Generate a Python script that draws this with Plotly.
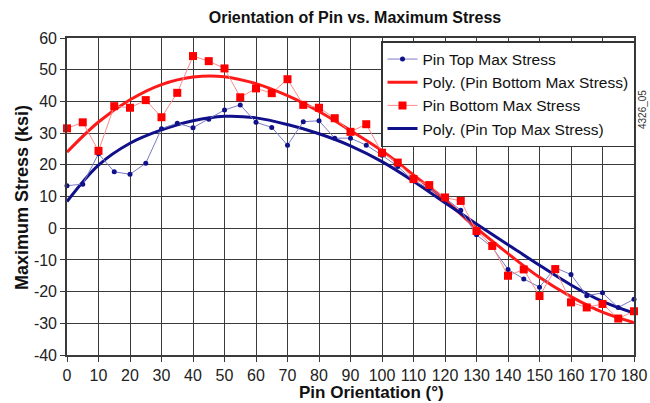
import plotly.graph_objects as go

# ---- data ----
angles = list(range(0, 181, 5))
pin_bottom = [31.5, 33.4, 24.4, 38.5, 38.0, 40.4, 35.0, 42.7, 54.3, 52.7, 50.4, 41.3, 44.1,
              42.6, 47.0, 38.9, 38.0, 34.7, 30.4, 32.8, 23.8, 20.7, 15.5, 13.6, 9.7, 8.6,
              -0.9, -5.6, -15.0, -13.0, -21.4, -12.9, -23.4, -25.0, -23.9, -28.5, -26.2]
pin_top = [13.4, 13.9, 23.5, 17.8, 17.0, 20.5, 31.4, 33.1, 31.7, 34.4, 37.3, 38.9, 33.4,
           31.8, 26.2, 33.6, 33.9, 28.4, 28.4, 26.2, 23.0, 19.5, 15.0, 12.5, 9.5, 5.7,
           -2.1, -6.0, -13.0, -16.0, -18.6, -12.5, -14.6, -21.3, -20.4, -25.0, -22.4]

trend_angles = list(range(0, 181, 10))
poly_bottom = [24.0, 33.5, 40.5, 45.3, 47.7, 47.8, 45.6, 41.8, 36.8, 30.8, 24.4, 16.8,
               8.9, 0.0, -8.0, -15.5, -21.6, -26.5, -29.8]
poly_top = [8.4, 19.9, 26.8, 31.0, 33.9, 35.3, 34.8, 32.7, 29.8, 26.0, 21.0, 14.8,
            8.0, 1.3, -5.2, -11.7, -17.9, -23.1, -26.8]

x_ticks = list(range(0, 181, 10))
y_ticks = list(range(-40, 61, 10))

FONT = "Liberation Sans, Arial, sans-serif"

fig = go.Figure()

fig.add_trace(go.Scatter(
    x=trend_angles, y=poly_bottom, mode="lines", name="Poly. (Pin Bottom Max Stress)",
    line=dict(color="#ff1a1a", width=3, shape="spline"), legendrank=2, cliponaxis=False))
fig.add_trace(go.Scatter(
    x=trend_angles, y=poly_top, mode="lines", name="Poly. (Pin Top Max Stress)",
    line=dict(color="#10108a", width=3, shape="spline"), legendrank=4, cliponaxis=False))
fig.add_trace(go.Scatter(
    x=angles, y=pin_top, mode="lines+markers", name="Pin Top Max Stress",
    line=dict(color="#7a7ac4", width=1),
    marker=dict(color="#10108a", size=5, symbol="circle"), legendrank=1, cliponaxis=False))
fig.add_trace(go.Scatter(
    x=angles, y=pin_bottom, mode="lines+markers", name="Pin Bottom Max Stress",
    line=dict(color="#ff8a8a", width=1),
    marker=dict(color="#ff0000", size=8, symbol="square"), legendrank=3, cliponaxis=False))

axis_common = dict(
    showgrid=True, gridcolor="#3a3a3a", gridwidth=1.4,
    showline=True, linecolor="#3a3a3a", linewidth=1.6, mirror=True,
    zeroline=False, ticks="outside", ticklen=5, tickcolor="#3a3a3a",
    tickfont=dict(family=FONT, size=16, color="#222222"),
    automargin=False, tickangle=0,
)

fig.update_layout(
    width=650, height=403,
    margin=dict(l=67, r=16, t=38, b=48),
    paper_bgcolor="white", plot_bgcolor="white",
    title=dict(text="<b>Orientation of Pin vs. Maximum Stress</b>", x=355 / 650, xanchor="center",
               y=1 - 17 / 403, yanchor="middle", font=dict(family=FONT, size=16, color="#111111")),
    xaxis=dict(range=[0, 180], tickvals=x_ticks, ticktext=[str(v) for v in x_ticks],
               **axis_common),
    yaxis=dict(range=[-40, 60], tickvals=y_ticks, ticktext=[str(v) for v in y_ticks],
               **axis_common),
    legend=dict(x=(381 - 67) / 567, y=1 - 3 / 317, xanchor="left", yanchor="top",
                bgcolor="white", bordercolor="#333333", borderwidth=1.5,
                font=dict(family=FONT, size=15.5, color="#111111"),
                itemwidth=30, tracegroupgap=0),
    showlegend=True,
)

fig.add_annotation(text="<b>Pin Orientation (°)</b>", xref="paper", yref="paper",
                   x=(371 - 67) / 567, y=-(392 - 355) / 317, showarrow=False,
                   xanchor="center", yanchor="middle",
                   font=dict(family=FONT, size=17, color="#111111"))
fig.add_annotation(text="<b>Maximum Stress (ksi)</b>", xref="paper", yref="paper",
                   x=-(67 - 22) / 567, y=(355 - 198) / 317, showarrow=False, textangle=-90,
                   xanchor="center", yanchor="middle",
                   font=dict(family=FONT, size=18, color="#111111"))
fig.add_annotation(text="4326_05", xref="paper", yref="paper", x=(642 - 67) / 567,
                   y=(355 - 110) / 317, textangle=-90, showarrow=False,
                   xanchor="center", yanchor="middle",
                   font=dict(family=FONT, size=10, color="#333333"))

fig.write_html("out.html", config={"displayModeBar": False},
               post_script="document.body.style.margin='0px';")
